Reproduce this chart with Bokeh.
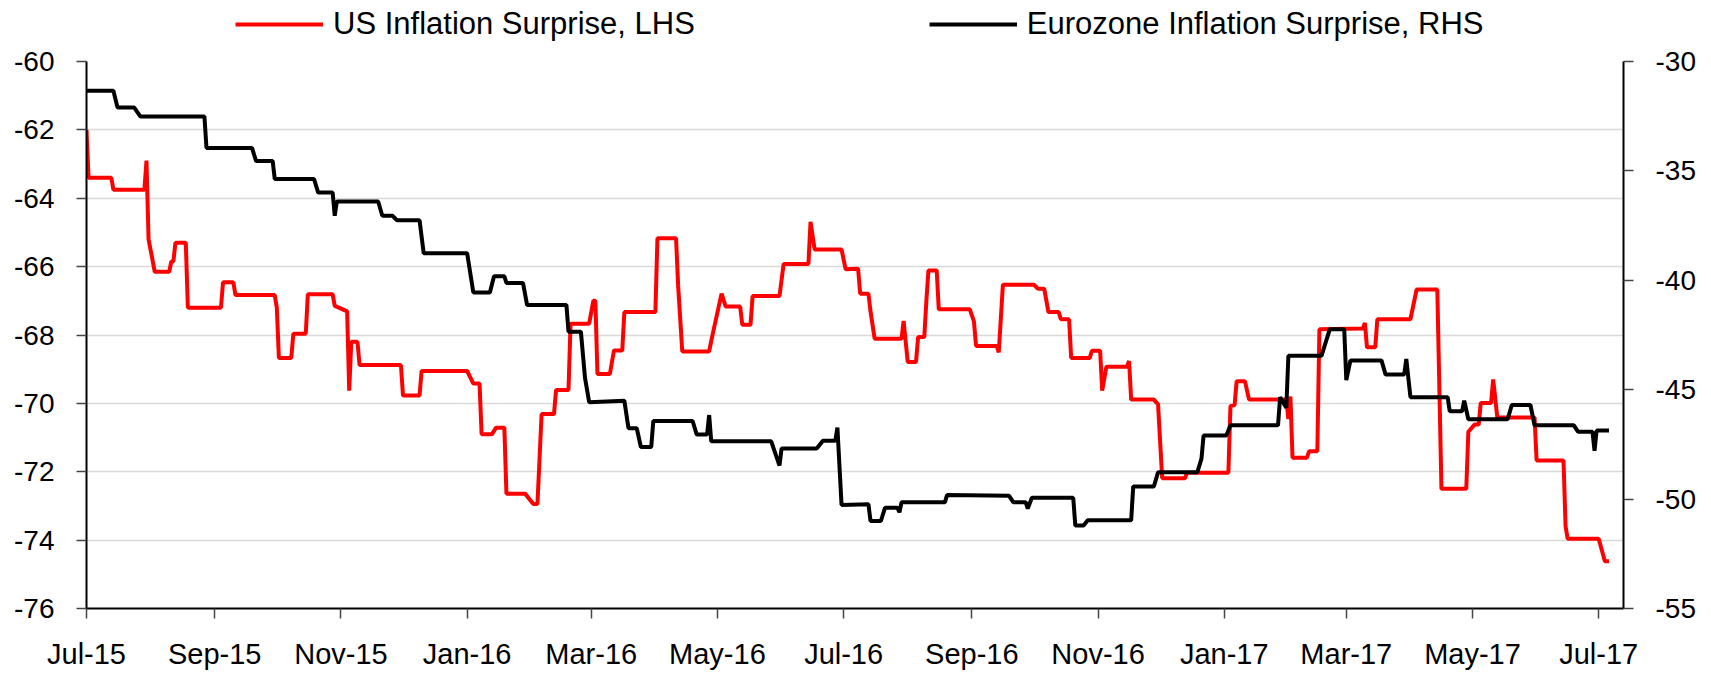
import numpy as np
import pandas as pd
from bokeh.plotting import figure
from bokeh.layouts import column
from bokeh.models import (ColumnDataSource, Range1d, LinearAxis, FixedTicker,
                          DatetimeTickFormatter, CustomJSTickFormatter, Legend, LegendItem)
from bokeh.embed import file_html
from bokeh.resources import INLINE

# ---------------- data ----------------
us_dates = [
    "2015-07-01", "2015-07-02", "2015-07-13", "2015-07-14", "2015-07-29", "2015-07-30", "2015-07-31",
    "2015-08-03", "2015-08-10", "2015-08-11", "2015-08-12", "2015-08-13", "2015-08-18", "2015-08-19",
    "2015-09-04", "2015-09-05", "2015-09-10", "2015-09-11", "2015-09-30", "2015-10-01", "2015-10-02",
    "2015-10-08", "2015-10-09", "2015-10-15", "2015-10-16", "2015-10-28", "2015-10-29", "2015-10-31",
    "2015-11-04", "2015-11-05", "2015-11-06", "2015-11-09", "2015-11-10", "2015-11-30", "2015-12-01",
    "2015-12-09", "2015-12-10", "2016-01-01", "2016-01-04", "2016-01-07", "2016-01-08", "2016-01-13",
    "2016-01-15", "2016-01-19", "2016-01-20", "2016-01-29", "2016-02-02", "2016-02-04", "2016-02-06",
    "2016-02-12", "2016-02-13", "2016-02-19", "2016-02-20", "2016-02-29", "2016-03-02", "2016-03-03",
    "2016-03-04", "2016-03-10", "2016-03-12", "2016-03-16", "2016-03-17", "2016-04-01", "2016-04-02",
    "2016-04-11", "2016-04-12", "2016-04-14", "2016-04-27", "2016-04-28", "2016-05-03", "2016-05-05",
    "2016-05-12", "2016-05-13", "2016-05-17", "2016-05-18", "2016-05-31", "2016-06-02", "2016-06-14",
    "2016-06-15", "2016-06-17", "2016-06-30", "2016-07-02", "2016-07-08", "2016-07-09", "2016-07-13",
    "2016-07-14", "2016-07-16", "2016-07-29", "2016-07-30", "2016-08-01", "2016-08-05", "2016-08-06",
    "2016-08-09", "2016-08-10", "2016-08-11", "2016-08-15", "2016-08-16", "2016-08-31", "2016-09-02",
    "2016-09-03", "2016-09-13", "2016-09-14", "2016-09-16", "2016-10-01", "2016-10-03", "2016-10-06",
    "2016-10-08", "2016-10-13", "2016-10-14", "2016-10-18", "2016-10-19", "2016-10-28", "2016-10-29",
    "2016-11-02", "2016-11-03", "2016-11-05", "2016-11-15", "2016-11-16", "2016-11-17", "2016-11-28",
    "2016-11-30", "2016-12-02", "2016-12-13", "2016-12-14", "2017-01-03", "2017-01-04", "2017-01-06",
    "2017-01-07", "2017-01-11", "2017-01-13", "2017-01-31", "2017-02-01", "2017-02-02", "2017-02-03",
    "2017-02-10", "2017-02-11", "2017-02-15", "2017-02-16", "2017-03-09", "2017-03-10", "2017-03-11",
    "2017-03-15", "2017-03-16", "2017-04-01", "2017-04-04", "2017-04-14", "2017-04-16", "2017-04-28",
    "2017-04-29", "2017-05-02", "2017-05-04", "2017-05-05", "2017-05-10", "2017-05-11", "2017-05-13",
    "2017-05-31", "2017-06-01", "2017-06-14", "2017-06-15", "2017-06-16", "2017-07-01", "2017-07-04",
    "2017-07-06",
]
us_values = [
    -62.0, -63.4, -63.4, -63.75, -63.75, -62.9, -65.2,
    -66.15, -66.15, -65.85, -65.85, -65.3, -65.3, -67.2,
    -67.2, -66.46, -66.46, -66.83, -66.83, -67.2, -68.67,
    -68.67, -67.96, -67.96, -66.81, -66.81, -67.15, -67.2,
    -67.31, -69.63, -68.2, -68.2, -68.88, -68.88, -69.77,
    -69.77, -69.05, -69.05, -69.42, -69.42, -70.9, -70.9,
    -70.71, -70.71, -72.64, -72.64, -72.94, -72.94, -70.31,
    -70.31, -69.61, -69.61, -67.67, -67.67, -67.0, -67.0,
    -69.14, -69.14, -68.45, -68.45, -67.33, -67.33, -65.17,
    -65.17, -66.55, -68.48, -68.48, -68.17, -66.79, -67.17,
    -67.17, -67.7, -67.7, -66.86, -66.86, -65.92, -65.92,
    -64.69, -65.5, -65.5, -66.08, -66.06, -66.79, -66.79,
    -67.31, -68.11, -68.11, -67.59, -68.79, -68.79, -68.06,
    -68.06, -67.0, -66.11, -66.11, -67.25, -67.25, -67.6,
    -68.32, -68.32, -68.51, -66.53, -66.53, -66.65, -66.65,
    -67.33, -67.33, -67.54, -67.54, -68.67, -68.67, -68.46,
    -68.46, -69.63, -68.93, -68.93, -68.76, -69.89, -69.89,
    -70.03, -72.19, -72.19, -72.03, -72.03, -70.08, -70.05,
    -69.35, -69.35, -69.89, -69.89, -70.46, -69.8, -71.59,
    -71.59, -71.4, -71.4, -67.83, -67.81, -67.65, -68.36,
    -68.36, -67.54, -67.54, -66.67, -66.67, -72.5, -72.5,
    -70.83, -70.62, -70.62, -69.99, -69.99, -69.3, -70.41,
    -70.41, -71.67, -71.67, -73.6, -73.96, -73.96, -74.62,
    -74.62,
]

ez_dates = [
    "2015-07-01", "2015-07-14", "2015-07-16", "2015-07-24", "2015-07-27", "2015-08-27", "2015-08-28",
    "2015-09-19", "2015-09-21", "2015-09-29", "2015-09-30", "2015-10-19", "2015-10-21", "2015-10-28",
    "2015-10-29", "2015-10-30", "2015-11-19", "2015-11-21", "2015-11-26", "2015-11-28", "2015-12-09",
    "2015-12-11", "2016-01-01", "2016-01-04", "2016-01-12", "2016-01-14", "2016-01-19", "2016-01-20",
    "2016-01-28", "2016-01-30", "2016-02-18", "2016-02-19", "2016-02-25", "2016-02-27", "2016-02-29",
    "2016-03-17", "2016-03-19", "2016-03-23", "2016-03-25", "2016-03-30", "2016-03-31", "2016-04-19",
    "2016-04-21", "2016-04-26", "2016-04-27", "2016-04-28", "2016-05-27", "2016-05-31", "2016-06-01",
    "2016-06-18", "2016-06-21", "2016-06-27", "2016-06-28", "2016-06-30", "2016-07-13", "2016-07-14",
    "2016-07-19", "2016-07-21", "2016-07-27", "2016-07-28", "2016-07-29", "2016-08-19", "2016-08-20",
    "2016-09-19", "2016-09-21", "2016-09-27", "2016-09-28", "2016-09-30", "2016-10-20", "2016-10-21",
    "2016-10-25", "2016-10-27", "2016-11-17", "2016-11-18", "2016-11-28", "2016-11-30", "2016-12-19",
    "2016-12-21", "2016-12-22", "2017-01-02", "2017-01-04", "2017-01-27", "2017-01-28", "2017-01-31",
    "2017-02-01", "2017-02-17", "2017-02-21", "2017-02-28", "2017-03-01", "2017-03-03", "2017-03-18",
    "2017-03-20", "2017-03-29", "2017-03-30", "2017-04-01", "2017-04-19", "2017-04-20", "2017-04-26",
    "2017-04-27", "2017-04-29", "2017-05-18", "2017-05-20", "2017-05-29", "2017-05-31", "2017-06-19",
    "2017-06-21", "2017-06-28", "2017-06-29", "2017-06-30", "2017-07-06",
]
ez_values = [
    -31.34, -31.34, -32.1, -32.1, -32.51, -32.51, -33.95,
    -33.95, -34.55, -34.55, -35.37, -35.37, -35.99, -35.99,
    -37.05, -36.4, -36.4, -37.05, -37.05, -37.25, -37.25,
    -38.76, -38.76, -40.56, -40.56, -39.82, -39.82, -40.12,
    -40.12, -41.13, -41.13, -42.35, -42.35, -44.47, -45.57,
    -45.5, -46.76, -46.76, -47.62, -47.62, -46.43, -46.43,
    -47.05, -47.05, -46.16, -47.36, -47.36, -48.47, -47.69,
    -47.69, -47.33, -47.33, -46.73, -50.27, -50.24, -51.0,
    -51.0, -50.4, -50.4, -50.6, -50.14, -50.14, -49.81,
    -49.85, -50.14, -50.14, -50.43, -49.94, -49.94, -51.21,
    -51.21, -50.97, -50.97, -49.42, -49.42, -48.77, -48.77,
    -48.15, -47.09, -47.09, -46.63, -46.63, -45.34, -45.83,
    -43.45, -43.45, -42.24, -42.24, -44.56, -43.66, -43.66,
    -44.31, -44.31, -43.6, -45.34, -45.34, -45.98, -45.98,
    -45.5, -46.35, -46.35, -45.7, -45.7, -46.63, -46.63,
    -46.92, -46.92, -47.79, -46.87, -46.87,
]

x_tick_dates = ["2015-07-01", "2015-09-01", "2015-11-01", "2016-01-01", "2016-03-01",
                "2016-05-01", "2016-07-01", "2016-09-01", "2016-11-01", "2017-01-01",
                "2017-03-01", "2017-05-01", "2017-07-01"]
left_ticks = [-76, -74, -72, -70, -68, -66, -64, -62, -60]
right_ticks = [-55, -50, -45, -40, -35, -30]
labels = ["US Inflation Surprise, LHS", "Eurozone Inflation Surprise, RHS"]
colors = ["#ff0000", "#000000"]

# ---------------- style ----------------
FONT = "Liberation Sans"
W = 1711
TOP_H = 45
MAIN_H = 673 - TOP_H
LW = 4

us_src = ColumnDataSource(dict(x=pd.to_datetime(us_dates), y=us_values))
ez_src = ColumnDataSource(dict(x=pd.to_datetime(ez_dates), y=ez_values))

# ---------------- main chart ----------------
p = figure(width=W, height=MAIN_H, x_axis_type="datetime",
           x_range=Range1d(pd.Timestamp("2015-07-01"), pd.Timestamp("2017-07-13")),
           y_range=Range1d(-76, -60),
           output_backend="svg", toolbar_location=None,
           min_border_left=86, min_border_right=88, min_border_top=16, min_border_bottom=65)
p.extra_y_ranges = {"right": Range1d(-55, -30)}
p.outline_line_color = None
p.background_fill_color = "white"
p.border_fill_color = "white"

r_us = p.line("x", "y", source=us_src, line_color=colors[0], line_width=LW)
r_ez = p.line("x", "y", source=ez_src, line_color=colors[1], line_width=LW,
              y_range_name="right")

int_fmt = "return tick.toFixed(0)"

def style_axis(ax, size):
    ax.axis_line_color = "black"
    ax.axis_line_width = 2
    ax.major_tick_line_color = "#444444"
    ax.major_tick_line_width = 1.5
    ax.major_tick_out = 10
    ax.major_tick_in = 0
    ax.minor_tick_line_color = None
    ax.major_label_text_font = FONT
    ax.major_label_text_font_size = size
    ax.major_label_text_color = "black"

xax = p.xaxis[0]
xax.ticker = FixedTicker(ticks=(pd.to_datetime(x_tick_dates).asi8 // 10**6).tolist())
xax.formatter = DatetimeTickFormatter(days="%b-%y", months="%b-%y", years="%b-%y")
style_axis(xax, "29px")
xax.major_label_standoff = 19

yax = p.yaxis[0]
yax.ticker = FixedTicker(ticks=left_ticks)
yax.formatter = CustomJSTickFormatter(code=int_fmt)
style_axis(yax, "28px")
yax.major_label_standoff = 22

rax = LinearAxis(y_range_name="right", ticker=FixedTicker(ticks=right_ticks),
                 formatter=CustomJSTickFormatter(code=int_fmt))
style_axis(rax, "28px")
rax.major_label_standoff = 22
p.add_layout(rax, "right")

p.xgrid.grid_line_color = None
p.ygrid.ticker = FixedTicker(ticks=left_ticks)
p.ygrid.grid_line_color = "#d9d9d9"
p.ygrid.grid_line_width = 1.5

# ---------------- legend strip on top ----------------
top = figure(width=W, height=TOP_H, x_range=Range1d(0, 1), y_range=Range1d(0, 1),
             output_backend="svg", toolbar_location=None, min_border=0,
             x_axis_location=None, y_axis_location=None)
top.outline_line_color = None
top.grid.visible = False
top.background_fill_color = "white"
top.border_fill_color = "white"
# key-only renderers (a single NaN point: nothing is drawn, only the legend sample)
k_us = top.line(x=[np.nan], y=[np.nan], line_color=colors[0], line_width=LW)
k_ez = top.line(x=[np.nan], y=[np.nan], line_color=colors[1], line_width=LW)

legend = Legend(items=[LegendItem(label=labels[0], renderers=[k_us]),
                       LegendItem(label=labels[1], renderers=[k_ez])],
                location=(149, 3), orientation="horizontal",
                padding=0, margin=0, spacing=234,
                background_fill_alpha=0, border_line_color=None,
                glyph_width=88, glyph_height=36, label_height=36, label_standoff=10,
                label_text_font=FONT, label_text_font_size="31px",
                label_text_color="black")
top.add_layout(legend, "center")

layout = column(top, p, spacing=0)
open("out.html", "w").write(file_html(layout, INLINE))
